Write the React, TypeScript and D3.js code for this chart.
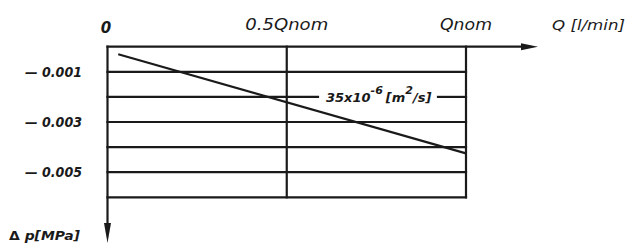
import React from "react";
import * as d3 from "d3";

// flow axis (fraction of Qnom) and pressure drop axis (MPa)
const qTicks = [0, 0.5, 1];
const qLabels = ["0", "0.5Qnom", "Qnom"];
const dpGrid = [0, -0.001, -0.002, -0.003, -0.004, -0.005, -0.006];
const dpTicks = [-0.001, -0.003, -0.005];
const dpLabels = ["— 0.001", "— 0.003", "— 0.005"];

// characteristic for 35x10^-6 m²/s
const curveQ = [0.03, 1];
const curveDp = [-0.0003, -0.00425];
const curveDpLabel = -0.002;

const W = 628;
const H = 246;
const ink = "#1a1a1a";
const font = "'DejaVu Sans', Verdana, sans-serif";

export default function App() {
  const x = d3.scaleLinear([0, 1], [107.5, 466]);
  const y = d3.scaleLinear([0, -0.006], [46.7, 197.3]);
  const line = d3.line<number>((d, i) => x(curveQ[i]), (d) => y(d));

  const x0 = x(0);
  const y0 = y(0);
  const yBottom = y(-0.006);
  const xEnd = 538;
  const yEnd = 243;

  const labelX = 326;
  const labelW = 108;

  return (
    <svg
      width={W}
      height={H}
      style={{ position: "absolute", left: 0, top: 0, background: "#fff" }}
    >
      <g stroke={ink} strokeWidth={2.2} fill="none" strokeLinecap="square">
        {/* horizontal grid */}
        {dpGrid.map((d) =>
          d === curveDpLabel ? (
            <g key={d}>
              <line x1={x0} x2={labelX - 8} y1={y(d)} y2={y(d)} />
              <line x1={labelX + labelW + 4} x2={x(1)} y1={y(d)} y2={y(d)} />
            </g>
          ) : d === 0 ? (
            <line key={d} x1={x0} x2={xEnd - 14} y1={y(d)} y2={y(d)} />
          ) : (
            <line key={d} x1={x0} x2={x(1)} y1={y(d)} y2={y(d)} />
          )
        )}
        {/* vertical grid */}
        {qTicks.map((q) => (
          <line
            key={q}
            x1={x(q)}
            x2={x(q)}
            y1={y0}
            y2={q === 0 ? yEnd - 18 : yBottom}
          />
        ))}
        <path d={line(curveDp) || ""} strokeLinecap="butt" />
      </g>

      {/* arrow heads */}
      <path
        d={`M${xEnd},${y0} L${xEnd - 17},${y0 - 3.5} L${xEnd - 17},${y0 + 3.5} Z`}
        fill={ink}
      />
      <path
        d={`M${x0},${yEnd} L${x0 - 3.5},${yEnd - 20} L${x0 + 3.5},${yEnd - 20} Z`}
        fill={ink}
      />

      <g fill={ink} fontFamily={font} fontStyle="italic">
        {qTicks.map((q, i) => (
          <text
            key={q}
            x={x(q) - (i === 0 ? 1.5 : 0)}
            y={i === 0 ? 33 : 29.5}
            textAnchor="middle"
            fontSize={15}
            fontWeight={i === 0 ? "bold" : "normal"}
            textLength={i === 0 ? undefined : i === 1 ? 83 : 52}
            lengthAdjust="spacingAndGlyphs"
          >
            {qLabels[i]}
          </text>
        ))}
        <text x={552} y={30} fontSize={14.5} textLength={73} lengthAdjust="spacingAndGlyphs">
          Q [l/min]
        </text>

        {dpTicks.map((d, i) => (
          <text
            key={d}
            x={82}
            y={y(d) + 5}
            textAnchor="end"
            fontSize={14}
            fontWeight="bold"
            textLength={57}
            lengthAdjust="spacingAndGlyphs"
          >
            {dpLabels[i]}
          </text>
        ))}

        <text x={9} y={240} fontSize={13} fontWeight="bold" textLength={71} lengthAdjust="spacingAndGlyphs">
          <tspan fontStyle="normal">Δ</tspan> p[MPa]
        </text>

        <text x={labelX} y={y(curveDpLabel) + 5} fontSize={13} fontWeight="bold">
          35x10
          <tspan dy={-8} fontSize={11}>
            -6
          </tspan>
          <tspan dy={8} dx={3}>
            [m
          </tspan>
          <tspan dy={-8} fontSize={11}>
            2
          </tspan>
          <tspan dy={8}>/s]</tspan>
        </text>
      </g>
    </svg>
  );
}
